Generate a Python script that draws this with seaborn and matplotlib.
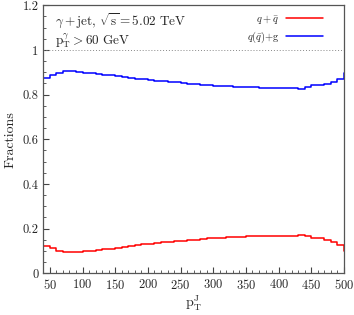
import numpy as np
import pandas as pd
import seaborn as sns
import matplotlib.pyplot as plt
from matplotlib.ticker import MultipleLocator, FuncFormatter

# bin low edges (10 GeV bins), last bin runs past the axis limit
edges = list(range(40, 510, 10))

frac_qg = [0.874, 0.886, 0.898, 0.904, 0.904, 0.902, 0.899, 0.896, 0.893, 0.890,
           0.887, 0.884, 0.880, 0.876, 0.872, 0.868, 0.866, 0.863, 0.860, 0.857,
           0.855, 0.852, 0.849, 0.847, 0.845, 0.842, 0.840, 0.838, 0.837, 0.836,
           0.834, 0.833, 0.832, 0.831, 0.831, 0.831, 0.831, 0.830, 0.829, 0.827,
           0.833, 0.841, 0.842, 0.849, 0.857, 0.872, 0.897]

frac_qq = [0.124, 0.112, 0.100, 0.094, 0.094, 0.096, 0.099, 0.102, 0.105, 0.108,
           0.111, 0.114, 0.117, 0.121, 0.125, 0.129, 0.132, 0.135, 0.138, 0.141,
           0.143, 0.146, 0.149, 0.151, 0.153, 0.156, 0.158, 0.160, 0.161, 0.162,
           0.164, 0.165, 0.166, 0.167, 0.167, 0.167, 0.167, 0.168, 0.169, 0.171,
           0.165, 0.157, 0.156, 0.149, 0.141, 0.126, 0.101]

sns.set_style("ticks")
plt.rcParams['font.family'] = ['cmr10', 'DejaVu Serif']
plt.rcParams['mathtext.fontset'] = 'cm'
plt.rcParams['axes.formatter.use_mathtext'] = True
plt.rcParams['axes.unicode_minus'] = False

# repeat last value on the closing edge so the step is drawn
x = edges + [edges[-1] + 10]
df = pd.concat([
    pd.DataFrame({'pt': x, 'frac': frac_qq + [frac_qq[-1]], 'ch': r'$q+\bar{q}$'}),
    pd.DataFrame({'pt': x, 'frac': frac_qg + [frac_qg[-1]], 'ch': r'$q(\bar{q})$+g'}),
])

fig = plt.figure(figsize=(3.54, 3.15), dpi=100)
ax = fig.add_axes([0.1223, 0.1324, 0.9718 - 0.1223, 0.9832 - 0.1324])

sns.lineplot(data=df, x='pt', y='frac', hue='ch',
             palette=['#ff0000', '#0000ff'], drawstyle='steps-post',
             estimator=None, linewidth=1.1, ax=ax)

ax.axhline(1.0, color='#888888', linestyle=(0, (1, 2)), linewidth=0.7)

ax.set_xlim(40, 500)
ax.set_ylim(0, 1.2)
ax.xaxis.set_major_locator(MultipleLocator(50))
ax.xaxis.set_minor_locator(MultipleLocator(10))
ax.yaxis.set_major_locator(MultipleLocator(0.2))
ax.yaxis.set_minor_locator(MultipleLocator(0.05))
ax.yaxis.set_major_formatter(FuncFormatter(lambda v, p: '%g' % round(v, 2)))
ax.tick_params(which='both', direction='in', labelsize=9, color='#444444')
ax.tick_params(which='major', length=4)
ax.tick_params(which='minor', length=2)
for s in ax.spines.values():
    s.set_color('#555555')
    s.set_linewidth(0.9)

ax.set_xlabel(r'$\mathrm{p}_{\mathrm{T}}^{\mathrm{J}}$', fontsize=10, labelpad=1)
ax.set_ylabel('Fractions', fontsize=10, labelpad=4)

ax.text(0.04, 0.94, r'$\gamma + \mathrm{jet},\, \sqrt{\mathrm{s}} = 5.02\ \mathrm{TeV}$',
        transform=ax.transAxes, fontsize=9.5, va='center')
ax.text(0.04, 0.87, r'$\mathrm{p}_{\mathrm{T}}^{\gamma} > 60\ \mathrm{GeV}$',
        transform=ax.transAxes, fontsize=9.5, va='center')

ax.legend(loc='upper right', bbox_to_anchor=(0.955, 1.0), frameon=False,
          markerfirst=False, fontsize=7.5, handlelength=3.6, handletextpad=0.6,
          borderaxespad=0.3, labelspacing=0.35, title=None)

plt.savefig('out.png', dpi=100)
plt.close()
